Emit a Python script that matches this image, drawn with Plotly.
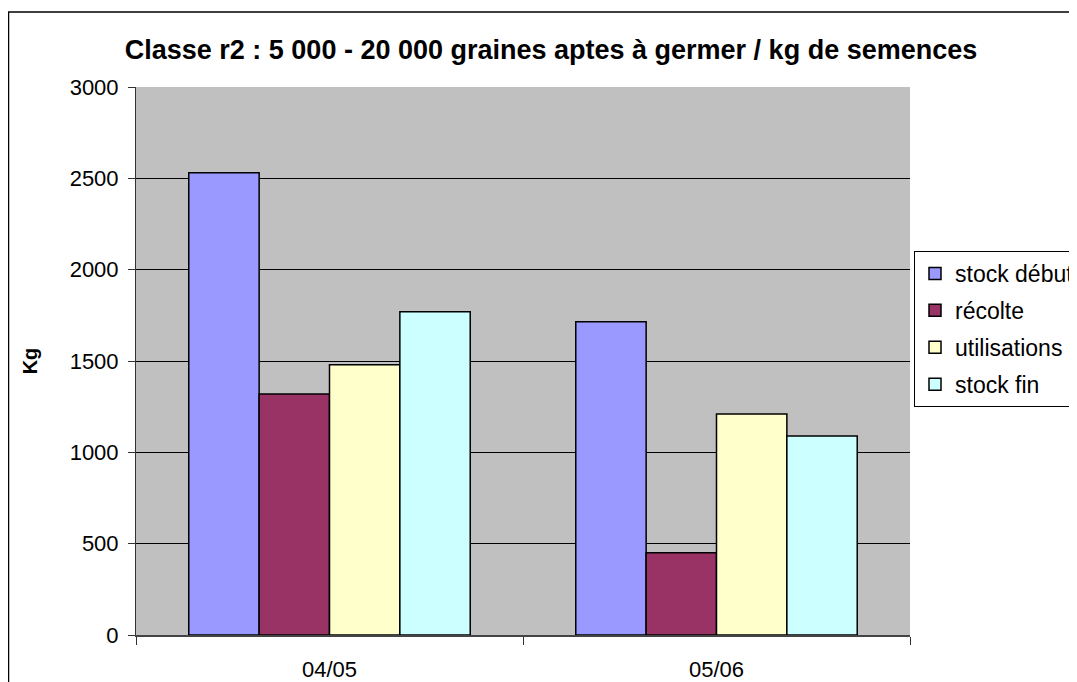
import plotly.graph_objects as go

# données (kg)
campagnes = ["04/05", "05/06"]
stock_debut = [2530, 1715]
recolte = [1320, 450]
utilisations = [1480, 1210]
stock_fin = [1770, 1090]

series = [
    ("stock début", stock_debut, "#9999FF"),
    ("récolte", recolte, "#993366"),
    ("utilisations", utilisations, "#FFFFCC"),
    ("stock fin", stock_fin, "#CCFFFF"),
]

# la page ajoute une marge de 8 px : on travaille en coordonnées décalées
OFF = 8
W, H = 1077 - OFF, 682 - OFF
# zone de tracé en pixels (coordonnées de la référence)
L, R, T, B = 136 - OFF, 910 - OFF, 87 - OFF, 635 - OFF
pw, ph = R - L, B - T


def px_x(x):
    return (x - OFF - L) / pw


def px_y(y):
    return (B - (y - OFF)) / ph


fig = go.Figure()

for i, (nom, vals, couleur) in enumerate(series):
    fig.add_trace(go.Bar(
        x=campagnes,
        y=vals,
        name=nom,
        legendgroup=str(i),
        marker=dict(color=couleur, line=dict(color="black", width=1.5)),
    ))

fig.update_layout(
    width=W, height=H,
    margin=dict(l=L, r=W - R, t=T, b=H - B, autoexpand=False),
    barmode="group",
    bargap=1.5 / 5.5,
    bargroupgap=0,
    plot_bgcolor="#C0C0C0",
    paper_bgcolor="white",
    font=dict(family="Arial, Liberation Sans", color="black", size=22),
    title=dict(
        text="<b>Classe r2 : 5 000 - 20 000 graines aptes à germer / kg de semences</b>",
        font=dict(size=27, family="Arial, Liberation Sans", color="black"),
        x=(551 - OFF) / W, xanchor="center",
        y=1 - (50 - OFF) / H, yanchor="middle",
    ),
    legend=dict(
        xref="container", yref="container",
        x=(914 - OFF) / W, y=1 - (251 - OFF) / H,
        xanchor="left", yanchor="top",
        bordercolor="black", borderwidth=1,
        bgcolor="white",
        font=dict(size=23),
        tracegroupgap=4,
        itemwidth=30,
    ),
    showlegend=True,
)

fig.update_yaxes(
    range=[0, 3000], dtick=500,
    showgrid=True, gridcolor="black", gridwidth=1,
    showline=True, linecolor="#333333", linewidth=1,
    ticks="outside", ticklen=7, tickcolor="#333333",
    ticklabelstandoff=5,
    zeroline=False, automargin=False,
    title=dict(text="<b>Kg</b>", font=dict(size=20), standoff=26),
)
fig.update_xaxes(
    showline=True, linecolor="#444444", linewidth=2,
    ticks="outside", ticklen=8, tickcolor="#333333",
    tickson="boundaries", automargin=False,
    ticklabelstandoff=14,
)

# cadre du graphique
fig.add_shape(type="rect", xref="paper", yref="paper",
              x0=px_x(8.5), x1=px_x(1100), y0=px_y(700), y1=px_y(12),
              line=dict(color="black", width=1.5), layer="below")

fig.write_html("out.html")
